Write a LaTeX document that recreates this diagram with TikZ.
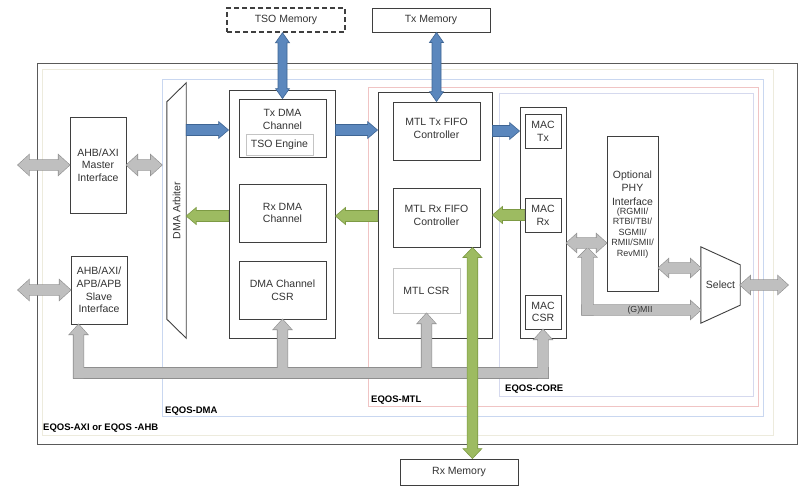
\documentclass[tikz,border=0pt]{standalone}
\usepackage{fontspec}
\setmainfont{Liberation Sans}
\usetikzlibrary{calc}
\definecolor{boxline}{HTML}{3F3F3F}
\definecolor{txtc}{HTML}{333333}
\definecolor{blueF}{HTML}{5B87BD}
\definecolor{blueD}{HTML}{3E6594}
\definecolor{greenF}{HTML}{9DBB61}
\definecolor{greenD}{HTML}{7D9A44}
\definecolor{grayF}{HTML}{BFBFBF}
\definecolor{grayD}{HTML}{8E8E8E}
\definecolor{frameA}{HTML}{5A5A5A}
\definecolor{frameB}{HTML}{EDEBDD}
\definecolor{frameC}{HTML}{C9D7F0}
\definecolor{frameD}{HTML}{F0C4C4}
\definecolor{frameE}{HTML}{D5D9EE}
\definecolor{lightbox}{HTML}{C4C4C4}

% single fat arrow: #1 style, #2 from, #3 to, #4 half shaft, #5 half head, #6 head length
\newcommand\sarrow[6]{%
 \path[#1] let \p1=(#2), \p2=(#3), \n1={veclen(\x2-\x1,\y2-\y1)}, \n2={(\x2-\x1)/\n1}, \n3={(\y2-\y1)/\n1} in
 ({\x1-(\n3)*#4},{\y1+(\n2)*#4})
 -- ({\x2-(\n2)*#6-(\n3)*#4},{\y2-(\n3)*#6+(\n2)*#4})
 -- ({\x2-(\n2)*#6-(\n3)*#5},{\y2-(\n3)*#6+(\n2)*#5})
 -- (\x2,\y2)
 -- ({\x2-(\n2)*#6+(\n3)*#5},{\y2-(\n3)*#6-(\n2)*#5})
 -- ({\x2-(\n2)*#6+(\n3)*#4},{\y2-(\n3)*#6-(\n2)*#4})
 -- ({\x1+(\n3)*#4},{\y1-(\n2)*#4}) -- cycle;}
% double fat arrow
\newcommand\darrow[6]{%
 \path[#1] let \p1=(#2), \p2=(#3), \n1={veclen(\x2-\x1,\y2-\y1)}, \n2={(\x2-\x1)/\n1}, \n3={(\y2-\y1)/\n1} in
 (\x1,\y1)
 -- ({\x1+(\n2)*#6-(\n3)*#5},{\y1+(\n3)*#6+(\n2)*#5})
 -- ({\x1+(\n2)*#6-(\n3)*#4},{\y1+(\n3)*#6+(\n2)*#4})
 -- ({\x2-(\n2)*#6-(\n3)*#4},{\y2-(\n3)*#6+(\n2)*#4})
 -- ({\x2-(\n2)*#6-(\n3)*#5},{\y2-(\n3)*#6+(\n2)*#5})
 -- (\x2,\y2)
 -- ({\x2-(\n2)*#6+(\n3)*#5},{\y2-(\n3)*#6-(\n2)*#5})
 -- ({\x2-(\n2)*#6+(\n3)*#4},{\y2-(\n3)*#6-(\n2)*#4})
 -- ({\x1+(\n2)*#6+(\n3)*#4},{\y1+(\n3)*#6-(\n2)*#4})
 -- ({\x1+(\n2)*#6+(\n3)*#5},{\y1+(\n3)*#6-(\n2)*#5})
 -- cycle;}

\newcommand\graybus[1]{%
 \path[#1] ($(busL |- yBus)+(-5,-5)$) rectangle ($(maccsr.south |- yBus)+(5,5)$);
 \sarrow{#1}{$(busL |- yBus)+(0,5)$}{busL}{5}{9}{10}
 \sarrow{#1}{dmacsr.south |- yBus}{dmacsr.south}{5}{9}{10}
 \sarrow{#1}{mtlcsr.south |- yBus}{mtlcsr.south}{5}{9}{10}
 \sarrow{#1}{$(maccsr.south |- yBus)+(0,5)$}{maccsr.south}{5}{9}{10}
}
\newcommand\grayio[1]{%
 \darrow{#1}{extM}{master.west}{5}{10}{11}
 \darrow{#1}{master.east}{arbIn}{5}{10}{11}
 \darrow{#1}{extS}{slave.west}{5}{10}{11}
 \darrow{#1}{corebox.east |- yMP}{phy.west |- yMP}{5}{9}{10}
 \sarrow{#1}{$(gmiiC)+(0,5)$}{$(gmiiC |- yMP)+(0,5)$}{5.5}{9}{9}
 \sarrow{#1}{$(gmiiC)+(-5.5,0)$}{sel.west |- gmiiC}{5}{9}{10}
 \darrow{#1}{phy.east |- yPS}{sel.west |- yPS}{5}{9}{10}
 \darrow{#1}{sel.east}{extR}{5}{9}{10}
}

\tikzset{
 box/.style={draw=boxline, line width=0.9pt, inner sep=0pt, fill=white},
 txt/.style={text=txtc, font=\fontsize{10.5}{12.7}\selectfont, align=center, inner sep=0pt},
 smalltxt/.style={text=txtc, font=\fontsize{9}{10.4}\selectfont, align=center, inner sep=0pt},
 lbl/.style={font=\fontsize{9.5}{11}\selectfont\bfseries, text=black, inner sep=0pt, anchor=west},
 frame/.style={line width=0.8pt},
 blueA/.style={fill=blueF, draw=blueD, line width=0.6pt},
 greenA/.style={fill=greenF, draw=greenD, line width=0.6pt},
 grayOut/.style={draw=grayD, line width=1.2pt},
 grayIn/.style={fill=grayF},
}

\begin{document}
\begin{tikzpicture}[x=1pt,y=-1pt]
\useasboundingbox (0,0) rectangle (809,496);
\fill[white] (0,0) rectangle (809,496);

% frames
\draw[frame, draw=frameA, line width=1pt] (37,63) rectangle (797,444);
\draw[frame, draw=frameB] (42,69) rectangle (773,435);
\draw[frame, draw=frameC] (162,79) rectangle (763,416);
\draw[frame, draw=frameD] (368,87) rectangle (758,406);
\draw[frame, draw=frameE] (499,93) rectangle (753,396);

\node[lbl] (lAXI) at (43,428) {EQOS-AXI or EQOS -AHB};
\node[lbl] (lDMA) at (165,411) {EQOS-DMA};
\node[lbl] (lMTL) at (371,400) {EQOS-MTL};
\node[lbl] (lCORE) at (505,389) {EQOS-CORE};

% memories
\node[box, txt, dashed, line width=1.4pt, dash pattern=on 5pt off 3pt, minimum width=118, minimum height=24] (tsomem) at (286,20) {TSO Memory};
\node[box, txt, minimum width=118, minimum height=24] (txmem) at (431,20) {Tx Memory};
\node[box, txt, minimum width=118, minimum height=26] (rxmem) at (459,472) {Rx Memory};

% interfaces
\node[box, txt, minimum width=56, minimum height=96] (master) at (98,165) {AHB/AXI\\Master\\Interface};
\node[box, txt, minimum width=56, minimum height=68] (slave) at (99,290) {AHB/AXI/\\APB/APB\\Slave\\Interface};

% arbiter
\node[inner sep=0, minimum width=19, minimum height=255] (arb) at (176.5,210.5) {};
\draw[box] ($(arb.north west)+(0,19)$) -- (arb.north east) -- (arb.south east) -- ($(arb.south west)+(0,-19)$) -- cycle;
\node[txt, rotate=90] (arbT) at (arb.center) {DMA Arbiter};

% DMA
\node[box, minimum width=106, minimum height=248] (dmabox) at (282,214) {};
\node[box, minimum width=87, minimum height=58] (txdma) at (282.5,128) {};
\node[txt] (txdmaT) at (282.5,119.5) {Tx DMA\\Channel};
\node[txt, draw=lightbox, line width=0.8pt, minimum width=67, minimum height=21] (tso) at (279.5,144.5) {TSO Engine};
\node[box, txt, minimum width=87, minimum height=58] (rxdma) at (282.5,213) {Rx DMA\\Channel};
\node[box, txt, minimum width=87, minimum height=58] (dmacsr) at (282.5,290) {DMA Channel\\CSR};

% MTL
\node[box, minimum width=114, minimum height=246] (mtlbox) at (435,215) {};
\node[box, minimum width=87, minimum height=58] (mtltx) at (436.5,131) {};
\node[txt] (mtltxT) at (436.5,128.5) {MTL Tx FIFO\\Controller};
\node[box, minimum width=87, minimum height=59] (mtlrx) at (436.5,217.5) {};
\node[txt] (mtlrxT) at (436.5,215.5) {MTL Rx FIFO\\Controller};
\node[txt, draw=lightbox, line width=0.8pt, fill=white, minimum width=67, minimum height=45] (mtlcsr) at (426.5,290.5) {MTL CSR};

% CORE
\node[box, minimum width=46, minimum height=231] (corebox) at (543,222.5) {};
\node[box, txt, minimum width=36, minimum height=34] (mactx) at (543,131) {MAC\\Tx};
\node[box, txt, minimum width=36, minimum height=34] (macrx) at (543,215) {MAC\\Rx};
\node[box, txt, minimum width=36, minimum height=34] (maccsr) at (543,312) {MAC\\CSR};

% PHY
\node[box, minimum width=51, minimum height=155] (phy) at (632.5,213.5) {};
\node[txt, font=\fontsize{10.5}{13.5}\selectfont] (phyT1) at (632.5,188) {Optional\\PHY\\Interface};
\node[smalltxt] (phyT2) at (632.5,233) {(RGMII/\\RTBI/TBI/\\SGMII/\\RMII/SMII/\\RevMII)};

% select
\node[inner sep=0, minimum width=39, minimum height=76] (sel) at (720.5,285) {};
\draw[box] (sel.north west) -- ($(sel.north east)+(0,18)$) -- ($(sel.south east)+(0,-18)$) -- (sel.south west) -- cycle;
\node[txt] (selT) at (sel.center) {Select};

% helper coordinates
\coordinate (yTx) at (0,130);
\coordinate (yRx) at (0,216);
\coordinate (yBus) at (0,373);
\coordinate (yMP) at (0,243);
\coordinate (yPS) at (0,268);
\coordinate (busL) at ($(slave.south west)+(8,0)$);
\coordinate (gmiiC) at (587.5,310);
\coordinate (extM) at (18,165);
\coordinate (extS) at (18,290);
\coordinate (extR) at (788,285);
\coordinate (arbIn) at ($(arb.west |- master)+(-5,0)$);
\coordinate (rxv) at ($(mtlrx.south east)+(-8,0)$);

% gray arrows (outline pass then fill pass)
\graybus{grayOut}
\graybus{grayIn}
\grayio{grayOut}
\grayio{grayIn}
\node[smalltxt, font=\fontsize{8.8}{10}\selectfont] (gmiiT) at (640,310) {(G)MII};

% blue arrows
\darrow{blueA}{txdma.north |- tsomem.south}{txdma.north}{4.5}{7}{10}
\darrow{blueA}{mtltx.north |- txmem.south}{mtltx.north}{4.5}{7}{10}
\sarrow{blueA}{arb.east |- yTx}{dmabox.west |- yTx}{5.5}{8.5}{10}
\sarrow{blueA}{dmabox.east |- yTx}{mtlbox.west |- yTx}{5.5}{8.5}{10}
\sarrow{blueA}{mtlbox.east |- mactx}{corebox.west |- mactx}{5.5}{8.5}{10}

% green arrows
\sarrow{greenA}{mtlbox.west |- yRx}{dmabox.east |- yRx}{5.5}{8.5}{10}
\sarrow{greenA}{dmabox.west |- yRx}{arb.east |- yRx}{5.5}{8.5}{10}
\sarrow{greenA}{macrx.west}{mtlbox.east |- macrx}{5.5}{8.5}{10}
\darrow{greenA}{rxv |- mtlrx.south}{rxv |- rxmem.north}{5.3}{9.5}{10}
\end{tikzpicture}
\end{document}
